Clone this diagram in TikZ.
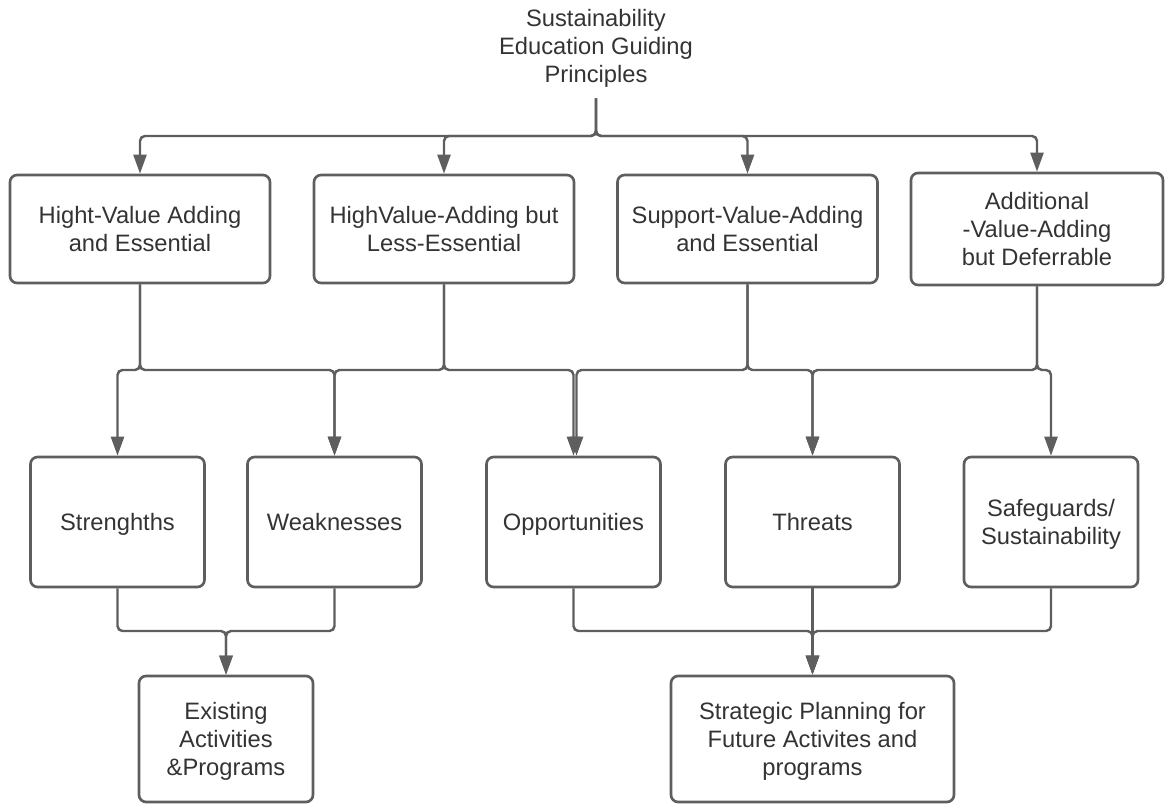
\documentclass[tikz,border=0pt]{standalone}
\usepackage{fontspec}
\setmainfont{Liberation Sans}
\usepackage{tikz}
\usetikzlibrary{arrows.meta,positioning,calc}
\usepackage{xcolor}
\definecolor{linegray}{HTML}{5E5E5E}
\definecolor{textgray}{HTML}{333333}
\newcommand{\capstrut}{\rule{0pt}{9.7pt}}

\begin{document}
\begin{tikzpicture}[x=0.02cm, y=-0.02cm,
    box/.style={draw=linegray, rounded corners=0.14cm, line width=1.5pt, align=center, text=textgray, font=\fontsize{13.5}{16}\selectfont, inner sep=0pt, text depth=0pt, execute at begin node=\capstrut},
    topbox/.style={box, minimum width=5.2cm, minimum height=2.16cm},
    swotbox/.style={box, minimum width=3.48cm, minimum height=2.6cm},
    outbox/.style={box, minimum height=2.52cm},
    flowarrow/.style={-{Triangle[length=0.38cm,width=0.26cm]}, line width=1.4pt, linegray, rounded corners=0.1cm}
]
    \useasboundingbox (0,0) rectangle (1166,804);

    % Title
    \node[align=center, text=textgray, font=\fontsize{13.5}{16}\selectfont, inner sep=0pt, text depth=0pt, minimum height=2.08cm] (title) at (596,46) {\capstrut Sustainability\\Education Guiding\\Principles};

    % Principle boxes
    \node[topbox] (hva) at (140,229) {Hight-Value Adding\\and Essential};
    \node[topbox] (hvl) at (444,229) {HighValue-Adding but\\Less-Essential};
    \node[topbox] (sva) at (747.5,229) {Support-Value-Adding\\and Essential};
    \node[topbox, minimum width=5.04cm, minimum height=2.24cm] (adv) at (1037,229) {Additional\\-Value-Adding\\but Deferrable};

    % SWOT boxes
    \node[swotbox] (str) at (117.5,522) {Strenghths};
    \node[swotbox] (weak) at (334.5,522) {Weaknesses};
    \node[swotbox] (opp) at (573.5,522) {Opportunities};
    \node[swotbox] (thr) at (812.5,522) {Threats};
    \node[swotbox] (safe) at (1051,522) {Safeguards/\\Sustainability};

    % Outcome boxes
    \node[outbox, minimum width=3.48cm] (ex) at (226,739) {Existing\\Activities\\\&Programs};
    \node[outbox, minimum width=5.66cm] (strat) at (812.5,739) {Strategic Planning for\\Future Activites and\\programs};

    % Routing rows
    \coordinate (split) at (596,136);
    \coordinate (lrow) at (0,370);
    \coordinate (brow) at (0,631);

    % Title to principles
    \draw[flowarrow] (title.south) -- (split) -| (hva.north);
    \draw[flowarrow] (title.south) -- (split) -| (hvl.north);
    \draw[flowarrow] (title.south) -- (split) -| (sva.north);
    \draw[flowarrow] (title.south) -- (split) -| (adv.north);

    % Principles to SWOT
    \draw[flowarrow] (hva.south) -- (hva.south |- lrow) -| (str.north);
    \draw[flowarrow] (hva.south) -- (hva.south |- lrow) -| (weak.north);
    \draw[flowarrow] (hvl.south) -- (hvl.south |- lrow) -| (weak.north);
    \draw[flowarrow] (hvl.south) -- (hvl.south |- lrow) -| (opp.north);
    \draw[flowarrow] (sva.south) -- (sva.south |- lrow) -| ([xshift=0.06cm]opp.north);
    \draw[flowarrow] (sva.south) -- (sva.south |- lrow) -| (thr.north);
    \draw[flowarrow] (adv.south) -- (adv.south |- lrow) -| (thr.north);
    \draw[flowarrow] (adv.south) -- (adv.south |- lrow) -| (safe.north);

    % SWOT to outcomes
    \draw[flowarrow] (str.south) -- (str.south |- brow) -| (ex.north);
    \draw[flowarrow] (weak.south) -- (weak.south |- brow) -| (ex.north);
    \draw[flowarrow] (opp.south) -- (opp.south |- brow) -| (strat.north);
    \draw[flowarrow] (thr.south) -- (strat.north);
    \draw[flowarrow] (safe.south) -- (safe.south |- brow) -| (strat.north);
\end{tikzpicture}
\end{document}
